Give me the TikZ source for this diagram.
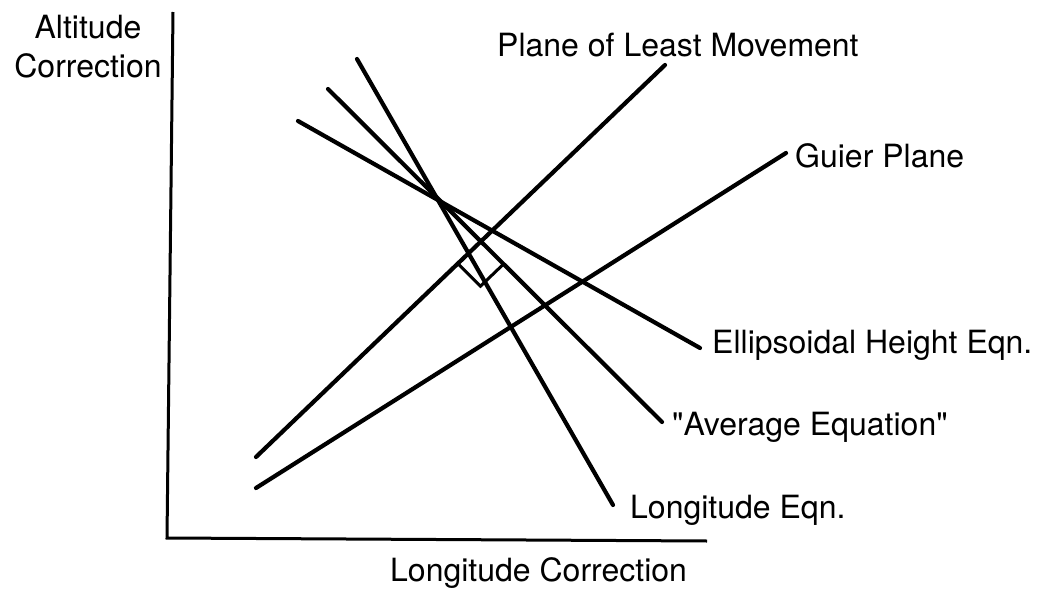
\documentclass[tikz,border=0pt]{standalone}
\usepackage{fontspec}
\setmainfont{TeX Gyre Heros}[Ligatures=TeXOff]
\usetikzlibrary{calc,intersections}
\begin{document}
\begin{tikzpicture}[x=1pt,y=-1pt,
  lbl/.style={inner sep=0pt,font=\fontsize{32}{39}\selectfont},
  axisline/.style={line width=3pt},
  eqline/.style={line width=4.2pt,line cap=round},
  marker/.style={line width=3pt,line join=miter}]
\useasboundingbox (0,0) rectangle (1050,589);
% axes
\coordinate (ytop) at (173,12);
\coordinate (origin) at (167,538);
\coordinate (xend) at (707,541);
\draw[axisline] (ytop) -- (origin) -- (xend);
% axis labels
\node[lbl,anchor=base] (alt1) at (88,38) {Altitude};
\node[lbl,anchor=base] (alt2) at (88,77) {Correction};
\node[lbl,anchor=base west] (lonc) at (390,581) {Longitude Correction};
% line labels
\node[lbl,anchor=base west] (lplm) at (497,56) {Plane of Least Movement};
\node[lbl,anchor=base west] (lgp) at (795,167) {Guier Plane};
\node[lbl,anchor=base west] (leh) at (712,353) {Ellipsoidal Height Eqn.};
\node[lbl,anchor=base west] (lav) at (672,435) {"Average Equation"};
\node[lbl,anchor=base west] (llo) at (630,518) {Longitude Eqn.};
% line endpoints
\coordinate (lo1) at (357,59);  \coordinate (lo2) at (613,505);
\coordinate (av1) at (328,89);  \coordinate (av2) at (662,422);
\coordinate (eh1) at (298,121); \coordinate (eh2) at (700,348);
\coordinate (pl1) at (256,457); \coordinate (pl2) at (665,65);
\coordinate (gp1) at (256,488); \coordinate (gp2) at (786,153);
% lines
\draw[eqline] (lo1) -- (lo2);
\draw[eqline,name path=avg] (av1) -- (av2);
\draw[eqline] (eh1) -- (eh2);
\draw[eqline,name path=plane] (pl1) -- (pl2);
\draw[eqline] (gp1) -- (gp2);
% right-angle mark
\path[name intersections={of=plane and avg,by=I}];
\coordinate (ra) at ($(I)!32pt!(pl1)$);
\coordinate (rb) at ($(I)!32pt!(av2)$);
\coordinate (rc) at ($(ra)+(rb)-(I)$);
\draw[marker] (ra) -- (rc) -- (rb);
\end{tikzpicture}
\end{document}
